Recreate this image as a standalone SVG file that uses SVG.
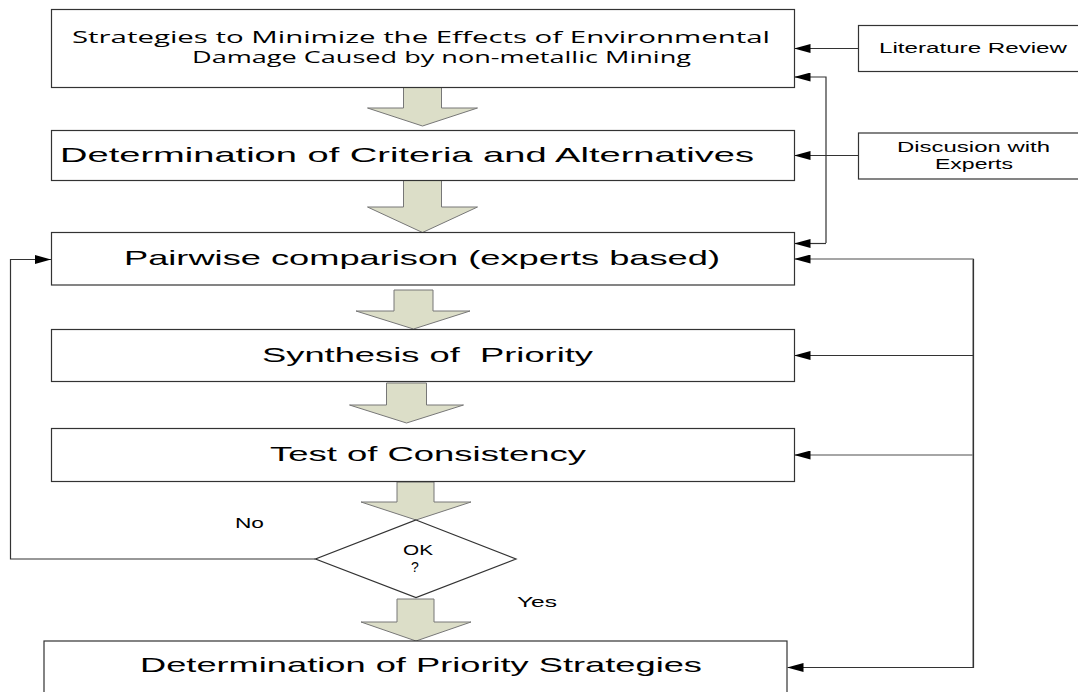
<svg xmlns="http://www.w3.org/2000/svg" width="1078" height="692" viewBox="0 0 1078 692">
<defs>
<marker id="ah" viewBox="0 0 16 9" refX="16" refY="4.5" markerWidth="16" markerHeight="9" markerUnits="userSpaceOnUse" orient="auto">
<path d="M0,0 L16,4.5 L0,9 Z" fill="#000"/>
</marker>
<style>
.box{fill:#fff;stroke:#333;stroke-width:1.2}
.blk{fill:#dcdec8;stroke:#777;stroke-width:1}
.t{font-family:"Liberation Sans",Arial,sans-serif;fill:#000}
.c{font-family:"Open Sans","Liberation Sans",sans-serif;fill:#000}
.ln{fill:none;stroke:#333;stroke-width:1.2}
.lg{fill:none;stroke:#888;stroke-width:1.4}
</style>
</defs>
<rect width="1078" height="692" fill="#fff"/>

<g id="block-arrows">
<path class="blk" d="M403.5,87.5 L441.5,87.5 L441.5,108 L477.5,108 L422.5,126 L367.5,108 L403.5,108 Z"/>
<path class="blk" d="M403.5,180.5 L441.5,180.5 L441.5,207 L477.5,207 L422.5,232.5 L367.5,207 L403.5,207 Z"/>
<path class="blk" d="M394,290 L433,290 L433,311 L470,311 L413.5,329 L356,311 L394,311 Z"/>
<path class="blk" d="M386.5,383 L426.5,383 L426.5,405 L463.5,405 L406.5,423 L349.5,405 L386.5,405 Z"/>
<path class="blk" d="M397,482 L434,482 L434,502 L471,502 L416,520 L361,502 L397,502 Z"/>
<path class="blk" d="M397,599 L434,599 L434,622 L471,622 L416,641 L361,622 L397,622 Z"/>
</g>

<g id="connectors">
<line class="ln" x1="858" y1="48.5" x2="794.5" y2="48.5" marker-end="url(#ah)"/>
<line class="ln" x1="858" y1="155.5" x2="794.5" y2="155.5" marker-end="url(#ah)"/>
<polyline class="ln" points="826,243 826,77 794.5,77" marker-end="url(#ah)"/>
<line class="ln" x1="826" y1="243.5" x2="794.5" y2="243.5" marker-end="url(#ah)"/>
<polyline class="lg" points="973,667.5 973,259 794.5,259" marker-end="url(#ah)"/>
<line class="ln" x1="973" y1="355.5" x2="794.5" y2="355.5" marker-end="url(#ah)"/>
<line class="lg" x1="973" y1="455" x2="794.5" y2="455" marker-end="url(#ah)"/>
<polyline class="ln" points="973.5,259 973.5,667.5 787.5,667.5" marker-end="url(#ah)"/>
<polyline class="ln" points="315.5,559 10.5,559 10.5,259.5 51,259.5" marker-end="url(#ah)"/>
</g>

<g id="node-strategies">
<rect class="box" x="51.5" y="9.5" width="743" height="78"/>
<text class="c" x="72" y="43" font-size="16" textLength="698" lengthAdjust="spacingAndGlyphs">Strategies to Minimize the Effects of Environmental</text>
<text class="c" x="192" y="63" font-size="16" textLength="499" lengthAdjust="spacingAndGlyphs">Damage Caused by non-metallic Mining</text>
</g>

<g id="node-literature">
<rect class="box" x="858.5" y="25.5" width="230" height="46"/>
<text class="t" x="879" y="53" font-size="14" textLength="188" lengthAdjust="spacingAndGlyphs">Literature Review</text>
</g>

<g id="node-criteria">
<rect class="box" x="51.5" y="130.5" width="743" height="50"/>
<text class="t" x="60" y="162" font-size="21" textLength="694" lengthAdjust="spacingAndGlyphs">Determination of Criteria and Alternatives</text>
</g>

<g id="node-discussion">
<rect class="box" x="858.5" y="133" width="230" height="46"/>
<text class="t" x="897" y="152" font-size="14" textLength="153" lengthAdjust="spacingAndGlyphs">Discusion with</text>
<text class="t" x="935" y="169" font-size="14" textLength="78" lengthAdjust="spacingAndGlyphs">Experts</text>
</g>

<g id="node-pairwise">
<rect class="box" x="51.5" y="232.5" width="743" height="52.5"/>
<text class="t" x="124" y="265" font-size="21" textLength="596" lengthAdjust="spacingAndGlyphs">Pairwise comparison (experts based)</text>
</g>

<g id="node-synthesis">
<rect class="box" x="51.5" y="329.5" width="743" height="52"/>
<text class="t" x="262" y="362" font-size="21" textLength="331" lengthAdjust="spacingAndGlyphs" xml:space="preserve">Synthesis of  Priority</text>
</g>

<g id="node-consistency">
<rect class="box" x="51.5" y="428.5" width="743" height="53"/>
<text class="t" x="270" y="461" font-size="21" textLength="316" lengthAdjust="spacingAndGlyphs">Test of Consistency</text>
</g>

<g id="node-ok">
<polygon class="box" points="416,520 516,559 416,597.5 315.5,559"/>
<text class="t" x="418" y="555" font-size="14" text-anchor="middle" textLength="30" lengthAdjust="spacingAndGlyphs">OK</text>
<text class="t" x="415" y="572" font-size="14" text-anchor="middle">?</text>
</g>

<g id="labels">
<text class="t" x="235" y="528" font-size="14" textLength="29" lengthAdjust="spacingAndGlyphs">No</text>
<text class="t" x="517" y="607" font-size="14" textLength="40" lengthAdjust="spacingAndGlyphs">Yes</text>
</g>

<g id="node-priority">
<rect class="box" x="44" y="641" width="743" height="60"/>
<text class="t" x="140" y="672" font-size="21" textLength="562" lengthAdjust="spacingAndGlyphs">Determination of Priority Strategies</text>
</g>
</svg>
